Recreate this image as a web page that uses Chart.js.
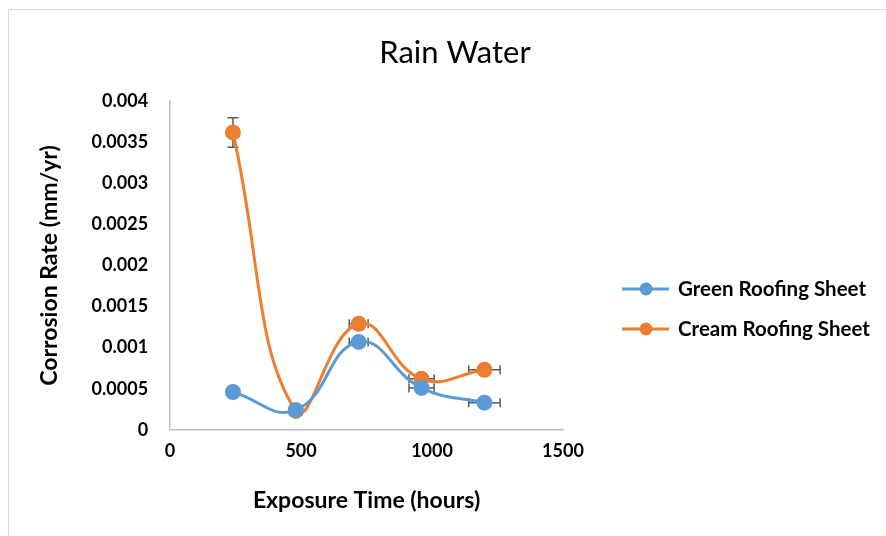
<!DOCTYPE html>
<html>
<head>
<meta charset="utf-8">
<script src="https://cdn.jsdelivr.net/npm/chart.js@4"></script>
<style>
  body { margin: 0; background: #fff; }
  #frame { position: absolute; left: 8px; top: 9px; width: 1000px; height: 1000px; border: 1px solid #d9d9d9; }
  #wrap { position: absolute; left: 0; top: 0; width: 886px; height: 536px; }
</style>
</head>
<body>
<div id="frame"></div>
<div id="wrap"><canvas id="rainChart" width="886" height="536"></canvas></div>
<script>
const exposureHours = [240, 480, 720, 960, 1200];
const greenRate = [0.00046, 0.00024, 0.00107, 0.00051, 0.00033];
const creamRate = [0.00362, 0.00023, 0.00129, 0.00062, 0.00073];
const xError = [12, 24, 36, 48, 60];
const greenYError = [0.000023, 0.000012, 0.000054, 0.000026, 0.000017];
const creamYError = [0.00018, 0.000012, 0.000065, 0.000031, 0.000037];
const xTickLabels = ['0', '500', '1000', '1500'];
const yTickLabels = ['0', '0.0005', '0.001', '0.0015', '0.002', '0.0025', '0.003', '0.0035', '0.004'];

const FONT = 'Lato, "Open Sans", sans-serif';

function toPoints(ys) {
    return exposureHours.map((x, i) => ({ x: x, y: ys[i] }));
}

const errorBars = {
    id: 'errorBars',
    beforeDatasetsDraw(chart) {
        const ctx = chart.ctx;
        const xs = chart.scales.x, ys = chart.scales.y;
        ctx.save();
        ctx.strokeStyle = '#595959';
        ctx.lineWidth = 1.5;
        chart.data.datasets.forEach(ds => {
            ds.data.forEach((p, i) => {
                const px = xs.getPixelForValue(p.x);
                const py = ys.getPixelForValue(p.y);
                const x1 = xs.getPixelForValue(p.x - ds.xErr[i]);
                const x2 = xs.getPixelForValue(p.x + ds.xErr[i]);
                const y1 = ys.getPixelForValue(p.y - ds.yErr[i]);
                const y2 = ys.getPixelForValue(p.y + ds.yErr[i]);
                ctx.beginPath();
                ctx.moveTo(x1, py); ctx.lineTo(x2, py);
                ctx.moveTo(x1, py - 4.5); ctx.lineTo(x1, py + 4.5);
                ctx.moveTo(x2, py - 4.5); ctx.lineTo(x2, py + 4.5);
                ctx.moveTo(px, y1); ctx.lineTo(px, y2);
                ctx.moveTo(px - 5.5, y1); ctx.lineTo(px + 5.5, y1);
                ctx.moveTo(px - 5.5, y2); ctx.lineTo(px + 5.5, y2);
                ctx.stroke();
            });
        });
        ctx.restore();
    }
};

// legend on the right: line with a dot, then the series name
const sideLegend = {
    id: 'sideLegend',
    afterDraw(chart) {
        const ctx = chart.ctx;
        const area = chart.chartArea;
        const x0 = area.right + 59;
        const midY = 309;
        ctx.save();
        ctx.font = 'bold 20.5px ' + FONT;
        ctx.textBaseline = 'middle';
        chart.data.datasets.forEach((ds, i) => {
            const y = midY + (i - 0.5) * 40;
            ctx.strokeStyle = ds.borderColor;
            ctx.lineWidth = 3;
            ctx.beginPath();
            ctx.moveTo(x0, y); ctx.lineTo(x0 + 47, y);
            ctx.stroke();
            ctx.fillStyle = ds.borderColor;
            ctx.beginPath();
            ctx.arc(x0 + 24, y, 6.5, 0, Math.PI * 2);
            ctx.fill();
            ctx.fillStyle = '#000';
            ctx.fillText(ds.label, x0 + 56, y);
        });
        ctx.restore();
    }
};

const ctx = document.getElementById('rainChart').getContext('2d');
new Chart(ctx, {
    type: 'line',
    data: {
        datasets: [{
            label: 'Green Roofing Sheet',
            data: toPoints(greenRate),
            xErr: xError,
            yErr: greenYError,
            borderColor: '#5B9BD5',
            backgroundColor: '#5B9BD5',
            borderWidth: 3,
            pointRadius: 6.5,
            pointHoverRadius: 6.5,
            tension: 0.45
        }, {
            label: 'Cream Roofing Sheet',
            data: toPoints(creamRate),
            xErr: xError,
            yErr: creamYError,
            borderColor: '#ED7D31',
            backgroundColor: '#ED7D31',
            borderWidth: 3,
            pointRadius: 6.5,
            pointHoverRadius: 6.5,
            tension: 0.45
        }]
    },
    options: {
        responsive: false,
        animation: false,
        layout: { padding: { left: 32, right: 8, top: 34, bottom: 18 } },
        plugins: {
            title: {
                display: true,
                text: 'Rain Water',
                color: '#000',
                font: { family: FONT, size: 31, weight: 'normal' },
                padding: { top: 0, bottom: 30 }
            },
            legend: { display: false },
            tooltip: { enabled: false }
        },
        scales: {
            x: {
                type: 'linear',
                min: 0,
                max: 1500,
                grid: { display: false, drawTicks: false },
                border: { display: true, color: '#bfbfbf', width: 1.5 },
                ticks: {
                    stepSize: 500,
                    padding: 11,
                    color: '#000',
                    font: { family: FONT, size: 18, weight: 'bold' },
                    callback: (v, i) => xTickLabels[i]
                },
                title: {
                    display: true,
                    text: 'Exposure Time (hours)',
                    color: '#000',
                    font: { family: FONT, size: 23, weight: 'bold' },
                    padding: { top: 13 }
                }
            },
            y: {
                min: 0,
                max: 0.004,
                grid: { display: false, drawTicks: false },
                border: { display: true, color: '#bfbfbf', width: 1.5 },
                ticks: {
                    stepSize: 0.0005,
                    padding: 22,
                    color: '#000',
                    font: { family: FONT, size: 18, weight: 'bold' },
                    callback: (v, i) => yTickLabels[i]
                },
                title: {
                    display: true,
                    text: 'Corrosion Rate (mm/yr)',
                    color: '#000',
                    font: { family: FONT, size: 23, weight: 'bold' },
                    padding: { bottom: 6 }
                }
            },
            // empty axis that keeps room for the legend on the right
            legendSpace: {
                position: 'right',
                min: 0,
                max: 1,
                grid: { display: false, drawTicks: false },
                border: { display: false },
                ticks: { display: false },
                afterFit: scale => { scale.width = 315; }
            }
        }
    },
    plugins: [errorBars, sideLegend]
});
</script>
</body>
</html>
